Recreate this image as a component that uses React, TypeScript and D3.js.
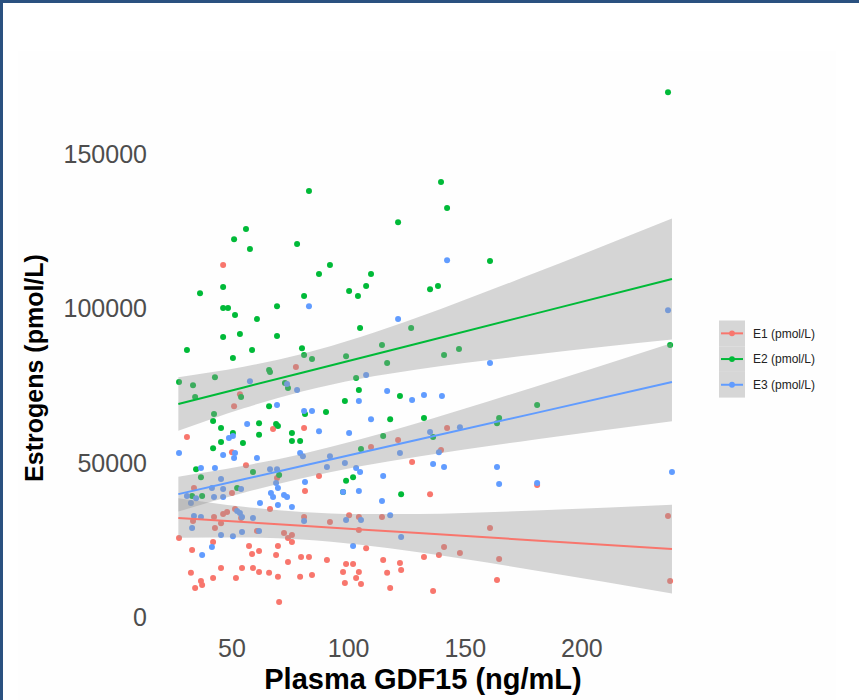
import { useEffect, useRef } from 'react'
import * as d3 from 'd3'

// ---- data ----
const seriesNames = ['E1 (pmol/L)', 'E2 (pmol/L)', 'E3 (pmol/L)']
const seriesColors = ['#F8766D', '#00BA38', '#619CFF']

// [Plasma GDF15 ng/mL, estrogen pmol/L]
const e1Points: [number, number][] = [
  [46.2, 114000], [77.4, 81000], [236.9, 32700], [142.2, 61200], [121.2, 57300], [109.6, 55100],
  [139.6, 54100], [127.2, 50200], [134.9, 39800], [100.2, 33000], [104.4, 32400], [114.3, 32400],
  [92.0, 30800], [104.4, 28200], [160.6, 28800], [107.5, 22300], [140.9, 22700], [147.7, 20700],
  [164.5, 18800], [132.3, 19400], [138.7, 20100], [114.8, 18500], [122.0, 17500], [98.9, 17200],
  [101.9, 17200], [97.6, 14600], [104.4, 14600], [116.5, 14300], [122.5, 15200], [103.2, 12600],
  [98.4, 11000], [105.3, 10700], [117.8, 9400], [136.2, 8400], [163.6, 12000], [237.8, 11700],
  [53.4, 72200], [50.9, 68300], [67.6, 60900], [80.9, 61200], [30.7, 58300], [50.0, 53400],
  [56.0, 49200], [87.3, 45700], [81.3, 40800], [69.3, 45000], [33.7, 41800], [50.0, 40200],
  [66.3, 35000], [46.2, 33400], [47.9, 34000], [42.3, 32400], [51.3, 35000], [53.9, 32100],
  [80.9, 32400], [33.3, 31100], [45.3, 30400], [42.7, 28800], [60.7, 27900], [72.3, 27200],
  [75.7, 26600], [74.0, 25600], [75.7, 24300], [27.3, 25600], [41.9, 24300], [57.3, 23000],
  [69.7, 23000], [32.9, 21700], [58.6, 20400], [61.6, 21400], [68.9, 20100], [74.0, 17800],
  [79.6, 19400], [83.0, 19400], [90.7, 18500], [32.4, 14300], [45.3, 15900], [41.9, 12600],
  [51.7, 12600], [54.3, 15900], [59.0, 15900], [61.6, 14600], [65.9, 14300], [69.7, 13000],
  [36.7, 11700], [37.2, 10400], [34.2, 9400], [79.2, 13000], [84.3, 13600], [70.2, 4900],
  [180.8, 42800],
]

const e2Points: [number, number][] = [
  [236.9, 170000], [83.0, 138000], [139.6, 140900], [142.2, 132500], [121.2, 127900], [56.0, 125700],
  [50.9, 122400], [57.7, 119200], [77.9, 120800], [92.0, 114000], [160.6, 115300], [87.3, 111100],
  [109.6, 111100], [46.2, 106900], [36.3, 104900], [80.9, 104000], [100.2, 105600], [104.0, 104000],
  [107.5, 107200], [134.9, 106200], [138.3, 107200], [69.3, 100700], [46.2, 100100], [48.3, 100100],
  [51.3, 97800], [60.7, 96500], [104.9, 93600], [126.8, 93600], [46.2, 90700], [53.4, 91700],
  [69.3, 91000], [30.7, 86500], [50.4, 83900], [58.6, 86500], [80.0, 87100], [80.9, 84900],
  [84.3, 83600], [65.9, 80000], [114.3, 88100], [98.9, 84500], [116.5, 82300], [140.9, 84900],
  [147.3, 86800], [103.2, 77400], [237.8, 88100], [104.4, 73500], [122.0, 71600], [98.4, 70000],
  [117.8, 64100], [132.3, 64500], [114.8, 58600], [180.8, 68700], [164.5, 64500], [163.6, 62800],
  [136.2, 58300], [105.3, 54400], [101.9, 45300], [98.9, 44100], [97.6, 40500], [122.5, 39800],
  [27.3, 76100], [33.3, 75100], [42.7, 77700], [66.3, 79400], [53.9, 71300], [34.2, 71300],
  [72.7, 75800], [74.0, 74200], [65.9, 68300], [81.3, 65800], [90.3, 66400], [42.3, 65800],
  [41.9, 63500], [61.6, 62800], [68.9, 62500], [69.7, 61900], [45.3, 61200], [61.6, 59000],
  [50.4, 59600], [45.3, 56700], [54.7, 56400], [75.7, 59600], [75.7, 57000], [79.2, 57000],
  [41.9, 54700], [34.6, 47900], [36.7, 45300], [59.0, 47000], [70.2, 46000], [52.2, 41800],
  [32.9, 39200], [37.2, 39200],
]

const e3Points: [number, number][] = [
  [236.9, 99400], [83.0, 100700], [142.2, 115600], [121.2, 96500], [160.6, 82300], [107.5, 78400],
  [116.5, 73200], [127.2, 70300], [132.3, 71900], [140.0, 71600], [104.4, 70000], [109.6, 64100],
  [100.2, 59600], [134.9, 59900], [147.7, 61500], [92.0, 52100], [138.7, 53400], [122.0, 53100],
  [98.4, 49900], [136.2, 49600], [140.9, 48600], [103.2, 48300], [104.9, 47000], [114.8, 45700],
  [238.6, 47000], [163.6, 48600], [164.5, 43100], [180.8, 43400], [104.4, 40800], [97.6, 40500],
  [114.3, 37600], [117.8, 33000], [98.9, 31400], [105.3, 31400], [122.5, 25900], [101.9, 23000],
  [57.7, 76400], [73.6, 75500], [77.9, 73500], [69.3, 68700], [80.9, 66700], [84.3, 66700],
  [56.5, 62500], [87.3, 60200], [48.7, 58000], [50.4, 58600], [27.3, 53100], [46.2, 52500],
  [51.3, 53100], [50.9, 51500], [60.7, 51500], [79.2, 53100], [80.4, 52100], [36.7, 48300],
  [42.7, 48300], [66.3, 47900], [69.3, 47900], [90.7, 48600], [45.3, 44700], [81.3, 43700],
  [68.9, 43400], [69.7, 41800], [41.4, 41800], [53.9, 41500], [46.2, 41500], [30.7, 39200],
  [34.6, 38500], [42.3, 38900], [46.2, 38900], [66.7, 40200], [72.3, 39500], [73.6, 38900],
  [67.6, 38900], [32.4, 36900], [62.0, 36900], [69.7, 36300], [75.7, 35600], [52.2, 34300],
  [53.4, 33700], [33.7, 32700], [36.7, 32400], [54.3, 32400], [59.0, 32100], [80.9, 31100],
  [32.9, 28800], [61.6, 27900], [45.3, 26600], [50.4, 26200], [54.3, 27500], [41.4, 22700],
  [37.2, 20100],
]

// linear fits with 95% bands, read at these x positions
const fitX = [27, 55, 80, 105, 130, 180, 238.6]
const e1Fit = [32100, 30760, 29570, 28370, 27180, 24800, 22000]
const e1Lower = [25700, 25790, 25090, 23400, 20960, 15080, 7600]
const e1Upper = [38500, 35730, 34050, 33340, 33400, 34520, 36400]
const e2Fit = [69000, 74360, 79140, 83930, 88710, 98280, 109500]
const e2Lower = [60300, 67600, 73050, 77170, 80250, 85060, 89920]
const e2Upper = [77700, 81100, 85230, 90690, 97170, 111500, 129080]
const e3Fit = [39800, 44600, 48890, 53180, 57470, 66050, 76100]
const e3Lower = [34160, 40220, 44940, 48800, 51990, 57480, 63410]
const e3Upper = [45440, 48980, 52840, 57560, 62950, 74620, 88790]

const xTicks = [50, 100, 150, 200]
const yTicks = [0, 50000, 100000, 150000]

const FONT = '"Liberation Sans", Arial, Helvetica, sans-serif'

export default function App() {
  const svgRef = useRef<SVGSVGElement>(null)

  useEffect(() => {
    if (!svgRef.current) return
    const svg = d3.select(svgRef.current)
    svg.selectAll('*').remove()

    const width = 859
    const height = 700

    svg.attr('width', width).attr('height', height)

    // page background + frame
    svg.append('rect').attr('width', width).attr('height', height).attr('fill', '#ffffff')
    svg.append('rect')
      .attr('x', 18).attr('y', 51).attr('width', 818).attr('height', height - 51)
      .attr('fill', '#fefefe')
    svg.append('line').attr('x1', 0).attr('x2', width).attr('y1', 1.5).attr('y2', 1.5)
      .attr('stroke', '#2a5180').attr('stroke-width', 3)
    svg.append('line').attr('x1', 1.5).attr('x2', 1.5).attr('y1', 0).attr('y2', height)
      .attr('stroke', '#2a5180').attr('stroke-width', 3)

    const xScale = d3.scaleLinear().domain([16.7, 249.2]).range([154.3, 696.7])
    const yScale = d3.scaleLinear().domain([-3400, 178300]).range([627.5, 66.6])

    const g = svg.append('g')

    // points (drawn first, bands go over them)
    const allPoints = [e1Points, e2Points, e3Points]
    allPoints.forEach((pts, i) => {
      g.append('g')
        .selectAll('circle')
        .data(pts)
        .join('circle')
        .attr('cx', (d) => xScale(d[0]))
        .attr('cy', (d) => yScale(d[1]))
        .attr('r', 3)
        .attr('fill', seriesColors[i])
    })

    // smooths
    const fits = [
      { fit: e1Fit, lo: e1Lower, hi: e1Upper },
      { fit: e2Fit, lo: e2Lower, hi: e2Upper },
      { fit: e3Fit, lo: e3Lower, hi: e3Upper },
    ]
    const area = d3.area<number>()
      .x((_, j) => xScale(fitX[j]))
      .y0((d) => yScale(d))
      .curve(d3.curveMonotoneX)
    const line = d3.line<number>()
      .x((_, j) => xScale(fitX[j]))
      .y((d) => yScale(d))

    fits.forEach((f, i) => {
      g.append('path')
        .datum(f.lo)
        .attr('fill', '#999999')
        .attr('fill-opacity', 0.4)
        .attr('d', area.y1((_, j) => yScale(f.hi[j]))(f.lo))
      g.append('path')
        .datum(f.fit)
        .attr('fill', 'none')
        .attr('stroke', seriesColors[i])
        .attr('stroke-width', 2)
        .attr('d', line)
    })

    // y axis labels
    g.append('g')
      .selectAll('text')
      .data(yTicks)
      .join('text')
      .attr('x', 147)
      .attr('y', (d) => yScale(d))
      .attr('dy', '0.36em')
      .attr('text-anchor', 'end')
      .attr('fill', '#4d4d4d')
      .attr('font-family', FONT)
      .attr('font-size', 25)
      .text((d) => String(d))

    // x axis labels
    g.append('g')
      .selectAll('text')
      .data(xTicks)
      .join('text')
      .attr('x', (d) => xScale(d))
      .attr('y', 657)
      .attr('text-anchor', 'middle')
      .attr('fill', '#4d4d4d')
      .attr('font-family', FONT)
      .attr('font-size', 25)
      .text((d) => String(d))

    // axis titles
    svg.append('text')
      .attr('x', 423).attr('y', 689)
      .attr('text-anchor', 'middle')
      .attr('font-family', FONT).attr('font-weight', 'bold').attr('font-size', 29)
      .attr('fill', '#000')
      .text('Plasma GDF15 (ng/mL)')

    svg.append('text')
      .attr('transform', 'translate(43,368) rotate(-90)')
      .attr('text-anchor', 'middle')
      .attr('font-family', FONT).attr('font-weight', 'bold').attr('font-size', 25)
      .attr('fill', '#000')
      .text('Estrogens (pmol/L)')

    // legend
    const legend = svg.append('g').attr('transform', 'translate(719,320.5)')
    const keyH = 25.7
    seriesNames.forEach((name, i) => {
      const key = legend.append('g').attr('transform', `translate(0,${i * keyH})`)
      key.append('rect').attr('width', 26).attr('height', keyH).attr('fill', '#d6d6d6')
      key.append('line')
        .attr('x1', 2).attr('x2', 24).attr('y1', keyH / 2).attr('y2', keyH / 2)
        .attr('stroke', seriesColors[i]).attr('stroke-width', 2)
      key.append('circle').attr('cx', 13).attr('cy', keyH / 2).attr('r', 2.9).attr('fill', seriesColors[i])
      key.append('text')
        .attr('x', 34).attr('y', keyH / 2).attr('dy', '0.35em')
        .attr('font-family', FONT).attr('font-size', 12).attr('fill', '#222')
        .text(name)
    })
  }, [])

  return (
    <div style={{ position: 'absolute', left: 0, top: 0 }}>
      <svg ref={svgRef} />
    </div>
  )
}
